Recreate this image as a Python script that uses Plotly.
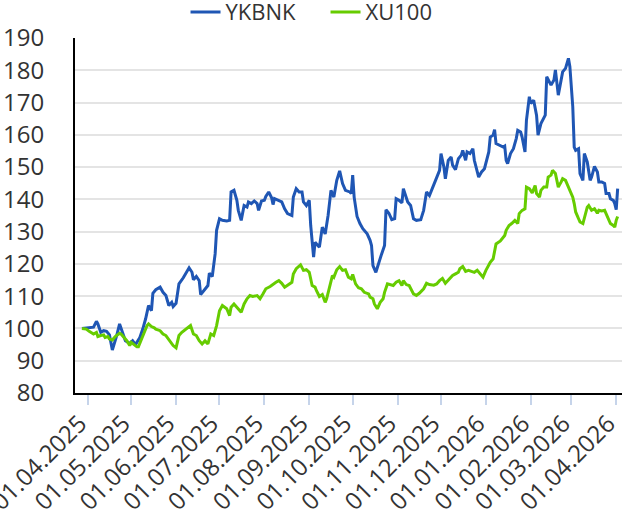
import pandas as pd
import plotly.graph_objects as go

# ---- data (days since 2025-04-01, index value rebased to 100) ----
base_date = "2025-04-01"

ykbnk_day = [-4, 1, 4, 6, 7, 9, 11, 13, 15, 17, 19, 20, 22, 24, 26, 29, 31, 33, 36, 38,
             40, 42, 44, 45, 47, 50, 52, 54, 56, 58, 59, 61, 63, 66, 68, 70, 72, 73, 75, 77,
             78, 80, 81, 83, 84, 86, 88, 89, 91, 93, 96, 98, 99, 101, 103, 104, 106, 108, 110, 111,
             113, 115, 117, 118, 120, 122, 123, 125, 127, 128, 129, 132, 134, 136, 138, 141, 142, 144, 146, 148,
             149, 151, 153, 154, 156, 157, 158, 160, 162, 164, 166, 168, 170, 172, 174, 176, 178, 181, 182, 183,
             184, 186, 188, 190, 193, 195, 196, 197, 199, 201, 203, 205, 206, 208, 210, 212, 213, 215, 217, 218,
             220, 221, 223, 225, 227, 230, 232, 234, 236, 238, 240, 243, 244, 246, 247, 249, 251, 252, 254, 256,
             258, 259, 261, 262, 264, 266, 267, 269, 270, 272, 274, 277, 278, 280, 281, 282, 284, 287, 288, 289,
             290, 292, 294, 296, 297, 299, 300, 302, 303, 305, 306, 308, 310, 311, 313, 316, 317, 319, 320, 322,
             323, 325, 327, 328, 330, 332, 333, 335, 336, 337, 339, 340, 342, 343, 345, 347, 348, 350, 352, 353,
             355, 357, 358, 360, 361, 363, 364, 365, 366]
ykbnk_value = [100.0, 100.2, 100.4, 102.2, 101.4, 98.8, 99.3, 99.1, 98.0, 93.3, 96.2, 97.8, 101.4, 98.5, 96.2, 95.4, 96.2, 95.0, 97.2, 99.8,
               103.0, 107.1, 105.5, 110.9, 112.0, 112.8, 111.2, 110.2, 107.1, 108.1, 106.8, 107.8, 113.8, 115.7, 117.1, 118.8, 117.4, 115.1, 116.1, 114.8,
               110.5, 111.7, 112.3, 113.3, 117.1, 116.1, 123.1, 130.4, 134.0, 133.5, 133.3, 133.5, 142.3, 142.8, 139.7, 136.6, 133.5, 138.1, 137.6, 139.2,
               138.7, 139.5, 138.7, 136.6, 139.5, 139.7, 140.9, 142.3, 140.5, 138.4, 140.2, 139.7, 139.2, 137.1, 135.6, 135.0, 140.7, 143.3, 142.3, 142.3,
               139.2, 138.1, 139.7, 131.9, 122.1, 126.7, 126.2, 125.2, 131.4, 129.3, 135.0, 142.8, 140.7, 145.9, 148.8, 144.9, 142.8, 142.3, 141.8, 147.5,
               140.7, 134.7, 132.5, 130.9, 129.3, 127.3, 125.7, 119.5, 117.4, 120.5, 123.1, 125.7, 136.8, 135.7, 133.7, 134.0, 140.2, 139.7, 138.9, 143.3,
               140.7, 139.2, 138.1, 134.0, 133.5, 133.7, 136.6, 142.3, 141.2, 143.3, 145.4, 149.0, 154.2, 150.0, 146.4, 152.1, 153.1, 150.6, 149.2, 152.6,
               153.7, 155.2, 152.1, 154.7, 154.2, 155.7, 152.1, 148.5, 146.9, 148.5, 149.5, 154.7, 159.3, 159.9, 161.6, 157.3, 156.8, 156.2, 156.5, 152.1,
               151.1, 154.2, 155.7, 158.9, 161.4, 160.9, 159.3, 154.7, 164.5, 171.8, 169.7, 170.7, 166.0, 159.9, 163.5, 166.1, 178.0, 175.9, 175.4, 177.0,
               180.1, 172.3, 177.5, 179.5, 180.6, 183.7, 181.1, 168.7, 156.2, 155.2, 155.7, 148.0, 145.9, 154.2, 151.6, 145.9, 146.9, 150.2, 148.5, 145.4,
               145.4, 144.9, 141.8, 141.8, 140.2, 139.7, 138.7, 136.8, 143.3]

xu100_day = [-4, -1, 1, 4, 6, 7, 9, 11, 12, 14, 15, 17, 19, 22, 23, 25, 27, 29, 30, 32,
             34, 35, 37, 39, 41, 42, 44, 46, 47, 50, 52, 54, 57, 59, 61, 62, 63, 65, 68, 71,
             73, 75, 77, 79, 81, 83, 85, 87, 89, 91, 93, 96, 98, 99, 101, 104, 106, 108, 110, 112,
             114, 117, 119, 121, 123, 126, 128, 130, 132, 134, 136, 138, 141, 142, 144, 147, 149, 151, 153, 155,
             157, 158, 160, 162, 164, 165, 167, 169, 170, 172, 174, 176, 178, 180, 182, 183, 185, 187, 189, 191,
             194, 195, 197, 198, 200, 202, 204, 205, 207, 209, 211, 213, 215, 217, 218, 220, 222, 225, 227, 229,
             232, 234, 236, 239, 241, 243, 245, 247, 250, 252, 254, 256, 257, 259, 261, 263, 265, 267, 269, 271,
             273, 275, 278, 280, 281, 282, 285, 287, 288, 289, 291, 293, 295, 297, 298, 300, 302, 303, 305, 307,
             309, 310, 312, 313, 315, 317, 318, 320, 321, 323, 325, 327, 328, 330, 332, 333, 335, 336, 337, 339,
             340, 342, 343, 345, 346, 348, 350, 352, 353, 355, 357, 359, 361, 363, 364, 365, 366]
xu100_value = [100.0, 99.8, 99.1, 98.3, 98.8, 97.5, 97.8, 98.0, 97.2, 97.5, 96.7, 96.4, 97.5, 98.5, 98.3, 97.2, 96.2, 94.7, 95.7, 95.0,
               94.3, 94.3, 96.7, 98.8, 100.9, 101.4, 100.6, 100.2, 99.8, 99.3, 98.3, 97.8, 96.0, 94.7, 94.0, 96.2, 97.8, 98.8, 99.8, 100.9,
               98.3, 97.8, 96.2, 95.2, 96.2, 95.2, 98.3, 97.8, 100.9, 105.5, 107.1, 106.1, 104.0, 106.6, 107.6, 106.1, 105.0, 107.6, 109.2, 110.2,
               109.9, 110.2, 109.2, 110.7, 112.3, 113.0, 113.8, 114.3, 114.8, 114.0, 112.8, 113.3, 114.3, 116.9, 118.5, 119.7, 118.0, 118.2, 117.4, 113.3,
               112.8, 111.7, 109.9, 110.5, 108.1, 109.2, 112.8, 116.4, 115.9, 118.2, 119.2, 118.0, 118.2, 115.9, 115.4, 116.7, 113.8, 112.6, 112.3, 111.2,
               110.7, 109.7, 109.2, 107.6, 106.1, 108.1, 109.2, 111.2, 113.8, 113.6, 113.3, 114.3, 114.8, 113.3, 114.8, 113.6, 113.3, 110.7, 110.2, 110.9,
               112.3, 114.0, 113.6, 113.4, 113.8, 114.8, 115.5, 114.0, 115.4, 116.4, 116.9, 117.4, 118.5, 119.2, 117.7, 118.0, 117.7, 117.4, 118.0, 117.1,
               115.9, 118.0, 120.5, 121.6, 124.7, 126.2, 127.1, 128.1, 128.8, 130.4, 131.9, 132.6, 133.5, 132.5, 135.6, 136.6, 137.1, 143.8, 143.3, 142.0,
               144.3, 141.8, 140.7, 142.8, 143.8, 143.8, 146.9, 147.5, 149.0, 148.0, 143.8, 145.4, 146.4, 145.9, 143.8, 142.3, 140.7, 138.7, 136.1, 134.0,
               133.0, 132.5, 134.5, 137.6, 138.1, 136.6, 137.1, 135.7, 136.6, 136.4, 136.6, 134.5, 132.5, 131.9, 131.4, 133.5, 134.7]

tick_dates = ["2025-04-01", "2025-05-01", "2025-06-01", "2025-07-01", "2025-08-01", "2025-09-01",
              "2025-10-01", "2025-11-01", "2025-12-01", "2026-01-01", "2026-02-01", "2026-03-01",
              "2026-04-01"]
y_ticks = [80, 90, 100, 110, 120, 130, 140, 150, 160, 170, 180, 190]

series_names = ["YKBNK", "XU100"]
series_colors = ["#1f56b4", "#66cc00"]


def to_dates(days):
    return pd.Timestamp(base_date) + pd.to_timedelta(days, unit="D")


FONT = "Open Sans"
TEXT = "#333333"

fig = go.Figure()
for name, days, vals, col in [
    (series_names[0], ykbnk_day, ykbnk_value, series_colors[0]),
    (series_names[1], xu100_day, xu100_value, series_colors[1]),
]:
    fig.add_trace(go.Scatter(x=to_dates(days), y=vals, mode="lines", name=name,
                             line=dict(color=col, width=3)))

tick_ts = pd.to_datetime(tick_dates)
fig.update_layout(
    width=622, height=517,
    margin=dict(l=75, r=0, t=38, b=124, pad=0, autoexpand=False),
    paper_bgcolor="white", plot_bgcolor="white",
    font=dict(family=FONT, size=22, color=TEXT),
    showlegend=True,
    legend=dict(orientation="h", x=0.458, xanchor="center", y=1.073, yanchor="middle",
                font=dict(size=22, color=TEXT), entrywidth=95,
                bgcolor="rgba(0,0,0,0)"),
    xaxis=dict(
        type="date", automargin=False, ticklabeloverflow="allow",
        range=[pd.Timestamp("2025-03-23 05:00"), pd.Timestamp("2026-04-05 00:00")],
        tickvals=tick_ts, ticktext=[t.strftime("%d.%m.%Y") for t in tick_ts],
        tickangle=-45, ticks="outside", ticklen=10, tickwidth=2, tickcolor="#c6d4ea",
        ticklabelstandoff=-5, ticklabelshift=-8,
        showgrid=False, zeroline=False,
        showline=True, linecolor="black", linewidth=2,
        tickfont=dict(size=24, color=TEXT),
    ),
    yaxis=dict(
        automargin=False, ticklabeloverflow="allow",
        range=[80, 190], tickvals=y_ticks,
        showgrid=True, gridcolor="#e4e4e4", gridwidth=2,
        zeroline=False, showline=True, linecolor="black", linewidth=2,
        ticks="", ticklabelstandoff=24,
        tickfont=dict(size=24, color=TEXT),
    ),
)

fig.write_html("out.html", config={"displayModeBar": False},
               post_script="document.body.style.margin='0';document.body.style.overflow='hidden';")
